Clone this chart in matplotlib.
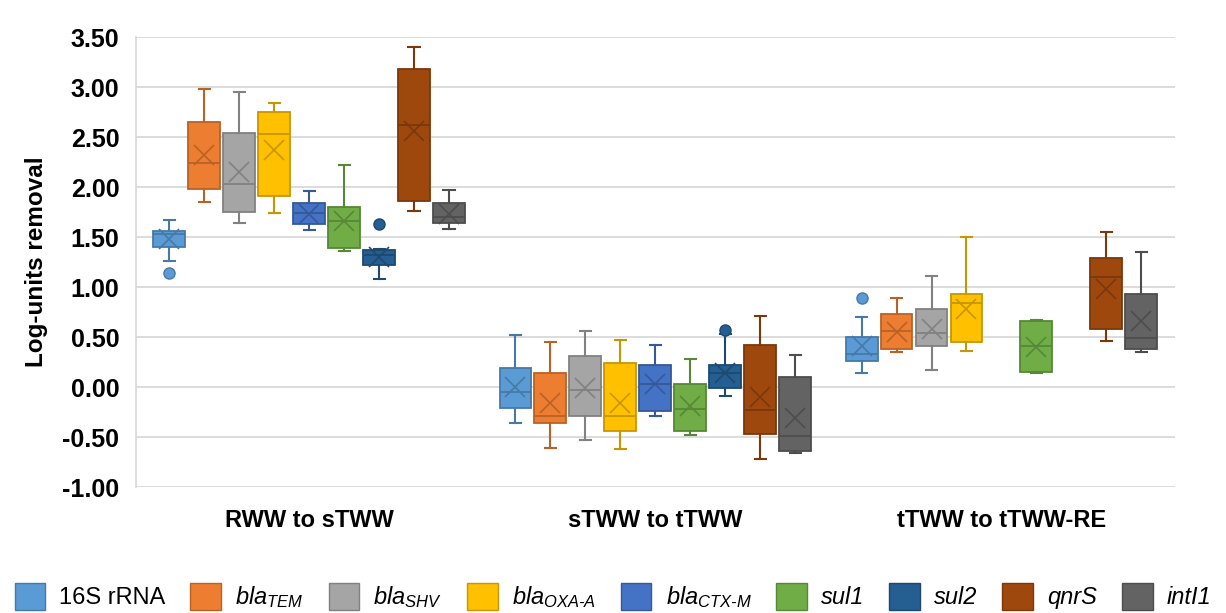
import numpy as np
import matplotlib
matplotlib.use("Agg")
import matplotlib.pyplot as plt
from matplotlib.patches import Patch
from matplotlib.colors import to_rgb

plt.rcParams['font.family'] = ['Liberation Sans', 'DejaVu Sans']
plt.rcParams['mathtext.fontset'] = 'custom'
plt.rcParams['mathtext.rm'] = 'Liberation Sans:italic'
plt.rcParams['mathtext.it'] = 'Liberation Sans:italic'

groups = ['RWW to sTWW', 'sTWW to tTWW', 'tTWW to tTWW-RE']
genes = ['16S rRNA', r'$bla_{TEM}$', r'$bla_{SHV}$', r'$bla_{OXA\text{-}A}$',
         r'$bla_{CTX\text{-}M}$', 'sul1', 'sul2', 'qnrS', 'intI1']
colors = ['#5B9BD5', '#ED7D31', '#A5A5A5', '#FFC000', '#4472C4',
          '#70AD47', '#255E91', '#9E480E', '#636363']

nan = np.nan
# per gene: values for [RWW to sTWW, sTWW to tTWW, tTWW to tTWW-RE]
whisker_low = [[1.26, -0.36, 0.14], [1.85, -0.61, 0.35], [1.64, -0.53, 0.17], [1.74, -0.62, 0.36],
               [1.57, -0.29, nan], [1.36, -0.48, 0.14], [1.08, -0.09, nan], [1.76, -0.72, 0.46],
               [1.58, -0.66, 0.35]]
q1 = [[1.40, -0.21, 0.26], [1.98, -0.36, 0.38], [1.75, -0.29, 0.41], [1.91, -0.44, 0.45],
      [1.63, -0.24, nan], [1.39, -0.44, 0.15], [1.22, -0.01, nan], [1.86, -0.47, 0.58],
      [1.64, -0.64, 0.38]]
median = [[1.53, -0.05, 0.33], [2.24, -0.29, 0.56], [2.03, -0.03, 0.54], [2.53, -0.29, 0.84],
          [1.74, 0.03, nan], [1.66, -0.22, 0.41], [1.32, 0.14, nan], [2.62, -0.23, 1.10],
          [1.70, -0.49, 0.49]]
q3 = [[1.56, 0.19, 0.50], [2.65, 0.14, 0.73], [2.54, 0.31, 0.78], [2.75, 0.24, 0.93],
      [1.84, 0.22, nan], [1.80, 0.03, 0.66], [1.37, 0.22, nan], [3.18, 0.42, 1.29],
      [1.84, 0.10, 0.93]]
whisker_high = [[1.67, 0.52, 0.70], [2.98, 0.45, 0.89], [2.95, 0.56, 1.11], [2.84, 0.47, 1.50],
                [1.96, 0.42, nan], [2.22, 0.28, 0.67], [1.38, 0.53, nan], [3.40, 0.71, 1.55],
                [1.97, 0.32, 1.35]]
mean = [[1.48, 0.00, 0.41], [2.32, -0.16, 0.55], [2.15, -0.01, 0.58], [2.37, -0.16, 0.78],
        [1.73, 0.03, nan], [1.66, -0.19, 0.40], [1.30, 0.14, nan], [2.56, -0.10, 0.98],
        [1.73, -0.31, 0.66]]
outliers = [[[1.14], [], [0.89]], [[], [], []], [[], [], []], [[], [], []],
            [[], [], []], [[], [], []], [[1.63], [0.57], []], [[], [], []],
            [[], [], []]]

yticks = np.arange(-1.0, 3.51, 0.5)

fig = plt.figure(figsize=(12.26, 6.13), dpi=100)
ax = fig.add_axes([0.111, 0.2055, 0.847, 0.734])

ng = len(genes)
step = 0.101
bw = 0.092
for gi in range(ng):
    base = to_rgb(colors[gi])
    dark = tuple(c * 0.78 for c in base)
    stats, pos = [], []
    for k in range(len(groups)):
        if np.isnan(q1[gi][k]):
            continue
        stats.append(dict(whislo=whisker_low[gi][k], q1=q1[gi][k], med=median[gi][k],
                          q3=q3[gi][k], whishi=whisker_high[gi][k], mean=mean[gi][k],
                          fliers=outliers[gi][k]))
        pos.append(k + (gi - (ng - 1) / 2) * step)
    ax.bxp(stats, positions=pos, widths=bw, patch_artist=True, showmeans=True,
           capwidths=0.032,
           boxprops=dict(facecolor=base, edgecolor=dark, linewidth=1.3),
           medianprops=dict(color=dark, linewidth=1.3),
           whiskerprops=dict(color=dark, linewidth=1.5),
           capprops=dict(color=dark, linewidth=1.5),
           meanprops=dict(marker='x', markeredgecolor=dark, markersize=14, markeredgewidth=1.2),
           flierprops=dict(marker='o', markerfacecolor=base, markeredgecolor=dark, markersize=8),
           zorder=3)

ax.set_xlim(-0.5, 2.5)
ax.set_ylim(-1.0, 3.5)
ax.set_yticks(yticks)
ax.set_yticklabels([f'{v:.2f}' for v in yticks], fontsize=18, fontweight='bold')
ax.set_xticks(range(len(groups)))
ax.set_xticklabels(groups, fontsize=17, fontweight='bold')
ax.tick_params(axis='x', length=0, pad=16)
ax.tick_params(axis='y', length=0, pad=12)
ax.yaxis.grid(True, color='#d9d9d9', linewidth=1.3, zorder=0)
ax.set_axisbelow(True)
for s in ['top', 'right', 'bottom']:
    ax.spines[s].set_visible(False)
ax.spines['left'].set_color('#d9d9d9')
ax.spines['left'].set_linewidth(1.3)
ax.set_ylabel('Log-units removal', fontsize=17.5, fontweight='bold', labelpad=10)

handles = [Patch(facecolor=c, edgecolor=tuple(x * 0.78 for x in to_rgb(c)), linewidth=1)
           for c in colors]
leg = fig.legend(handles, genes, loc='lower center', bbox_to_anchor=(0.5, -0.03), ncol=9,
                 frameon=False, fontsize=17, handlelength=1.3, handleheight=1.4,
                 columnspacing=1.05, handletextpad=0.6)
for t in leg.get_texts()[5:]:
    t.set_fontstyle('italic')

fig.savefig('out.png', dpi=100)
